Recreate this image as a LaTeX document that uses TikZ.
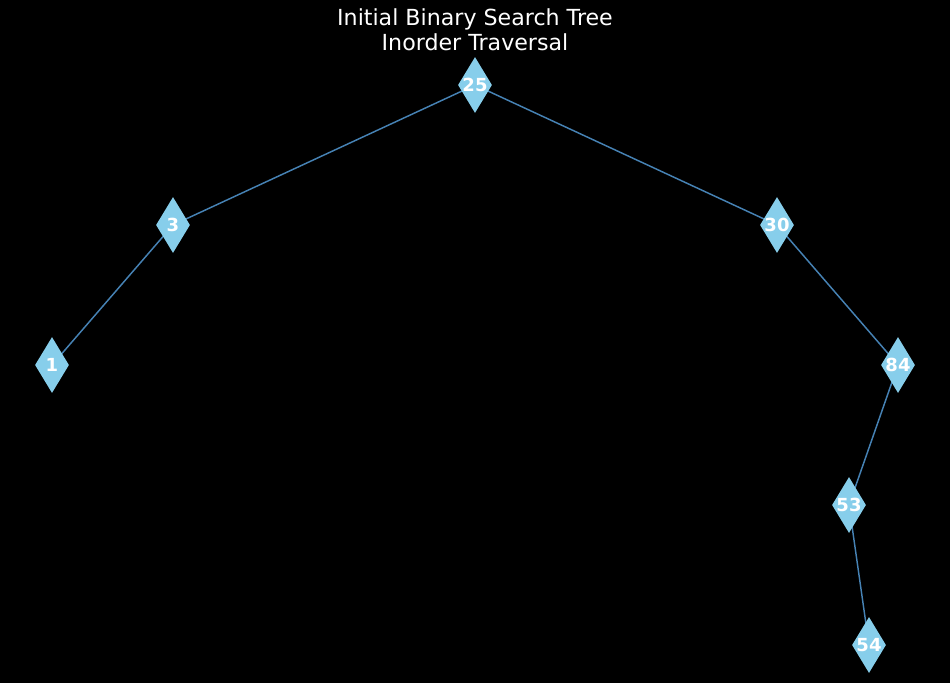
\documentclass[tikz,border=0pt]{standalone}
\usepackage{fontspec}
\setmainfont{DejaVu Sans}
\usetikzlibrary{shapes.geometric,backgrounds}
\definecolor{nodefill}{HTML}{87CEEB}
\definecolor{edgecol}{HTML}{4682B4}
\tikzset{
  bstnode/.style={diamond,fill=nodefill,draw=none,inner sep=0pt,shape aspect=0.6,
    minimum width=34*0.75pt,minimum height=56*0.75pt,
    font=\fontsize{13.5pt}{15pt}\selectfont\bfseries,text=white},
  bstedge/.style={draw=edgecol,line width=1.1pt},
}
\begin{document}
\begin{tikzpicture}[x=0.75pt,y=-0.75pt]
\useasboundingbox (0,0) rectangle (950,683);
\node[text=white,align=center,font=\fontsize{16.6pt}{18.5pt}\selectfont] (title) at (475,30) {Initial Binary Search Tree\\Inorder Traversal};
\node[bstnode] (n25) at (475,85) {25};
\node[bstnode] (n3) at (173,225) {3};
\node[bstnode] (n30) at (777,225) {30};
\node[bstnode] (n1) at (52,365) {1};
\node[bstnode] (n84) at (898,365) {84};
\node[bstnode] (n53) at (849,505) {53};
\node[bstnode] (n54) at (869,645) {54};
\begin{scope}[on background layer]
\fill[black] (0,0) rectangle (950,683);
\draw[bstedge] (n25.center) -- (n3.center);
\draw[bstedge] (n25.center) -- (n30.center);
\draw[bstedge] (n3.center) -- (n1.center);
\draw[bstedge] (n30.center) -- (n84.center);
\draw[bstedge] (n84.center) -- (n53.center);
\draw[bstedge] (n53.center) -- (n54.center);
\end{scope}
\end{tikzpicture}
\end{document}
